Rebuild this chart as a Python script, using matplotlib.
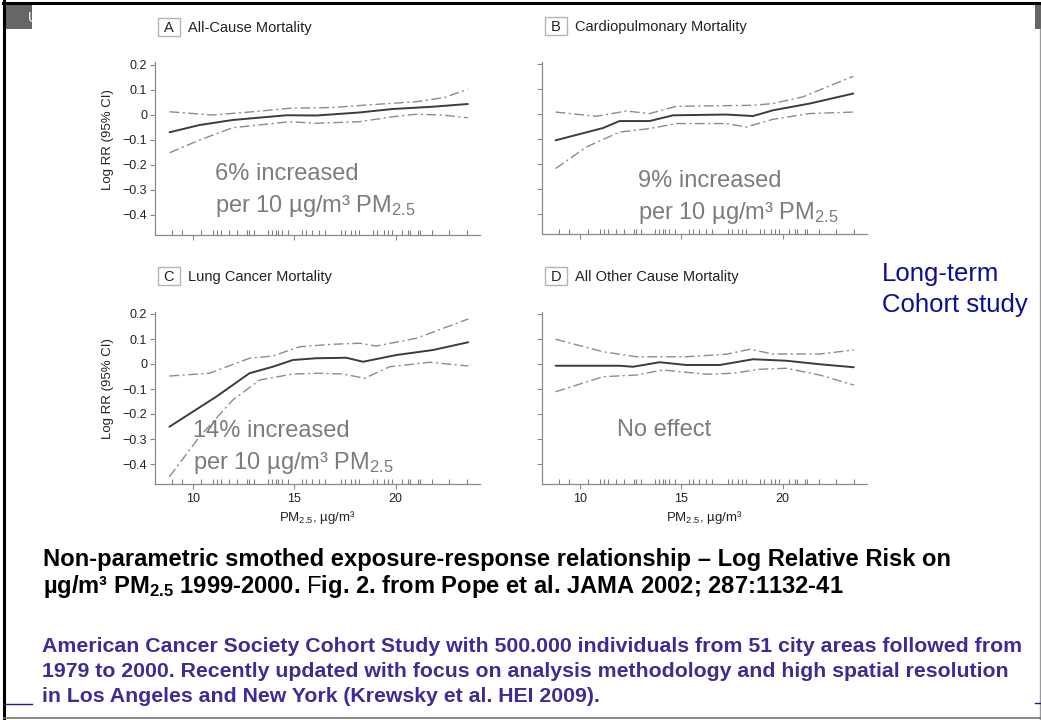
import matplotlib
matplotlib.use("Agg")
import matplotlib.pyplot as plt
from matplotlib.patches import Rectangle
from matplotlib.lines import Line2D

plt.rcParams['font.family'] = ['Liberation Sans', 'DejaVu Sans']
plt.rcParams['mathtext.fontset'] = 'custom'
plt.rcParams['mathtext.rm'] = 'Liberation Sans'
plt.rcParams['mathtext.it'] = 'Liberation Sans:italic'
plt.rcParams['mathtext.bf'] = 'Liberation Sans:bold'

W, H = 1041, 720

# city mean PM2.5 values (rug along the x axis)
rug_pm = [9.0, 9.5, 10.4, 11.0, 11.2, 11.4, 11.8, 12.2, 12.7, 12.8, 13.0,
          13.7, 13.9, 14.1, 14.2, 14.4, 14.7, 15.4, 15.6, 15.9, 16.2, 16.5,
          17.3, 17.5, 17.8, 18.0, 18.2, 18.9, 19.1, 19.4, 19.6, 19.8, 20.3,
          20.6, 20.7, 21.1, 21.2, 21.8, 22.6, 23.5]

# A  all-cause mortality
a_est_x = [8.87, 10.35, 11.97, 14.63, 16.1, 18.2, 19.85, 21.8, 23.55]
a_est_y = [-0.069, -0.04, -0.02, -0.001, -0.002, 0.01, 0.024, 0.033, 0.044]
a_hi_x = [8.87, 10.99, 12.96, 14.78, 16.9, 18.57, 21.0, 22.4, 23.55]
a_hi_y = [0.013, 0.0, 0.013, 0.027, 0.03, 0.04, 0.053, 0.07, 0.103]
a_lo_x = [8.87, 10.35, 11.97, 14.78, 16.1, 18.2, 19.85, 21.0, 22.3, 23.55]
a_lo_y = [-0.151, -0.1, -0.051, -0.027, -0.033, -0.027, -0.007, 0.003, 0.0, -0.011]

# B  cardiopulmonary mortality
b_est_x = [8.82, 11.15, 11.97, 13.45, 14.6, 17.23, 18.54, 19.52, 21.33, 23.47]
b_est_y = [-0.104, -0.055, -0.027, -0.027, -0.004, -0.001, -0.007, 0.016, 0.043, 0.083]
b_hi_x = [8.82, 10.82, 12.3, 13.45, 14.77, 18.54, 19.52, 21.0, 23.47]
b_hi_y = [0.009, -0.008, 0.013, 0.003, 0.032, 0.036, 0.043, 0.07, 0.152]
b_lo_x = [8.82, 10.33, 11.97, 13.45, 14.77, 17.23, 18.2, 19.52, 21.33, 23.47]
b_lo_y = [-0.217, -0.131, -0.071, -0.057, -0.037, -0.037, -0.051, -0.02, 0.003, 0.009]

# C  lung cancer mortality
c_est_x = [8.86, 11.16, 12.8, 13.95, 14.94, 16.09, 17.57, 18.39, 20.04, 21.84, 23.57]
c_est_y = [-0.251, -0.131, -0.037, -0.011, 0.016, 0.023, 0.025, 0.009, 0.036, 0.056, 0.087]
c_hi_x = [8.86, 10.83, 12.8, 13.95, 15.27, 16.91, 18.23, 19.05, 21.02, 23.57]
c_hi_y = [-0.048, -0.037, 0.023, 0.032, 0.069, 0.079, 0.083, 0.072, 0.103, 0.18]
c_lo_x = [8.86, 10.34, 11.98, 13.3, 14.94, 16.25, 17.4, 18.47, 19.7, 21.67, 23.57]
c_lo_y = [-0.451, -0.291, -0.144, -0.064, -0.04, -0.037, -0.04, -0.057, -0.011, 0.007, -0.008]

# D  all other cause mortality
d_est_x = [8.82, 11.97, 12.63, 13.94, 15.26, 16.9, 18.54, 20.18, 21.82, 23.5]
d_est_y = [-0.007, -0.007, -0.011, 0.007, -0.004, -0.004, 0.019, 0.013, -0.001, -0.013]
d_hi_x = [8.82, 11.15, 12.8, 15.26, 17.23, 18.38, 19.52, 21.82, 23.5]
d_hi_y = [0.099, 0.049, 0.029, 0.029, 0.039, 0.059, 0.04, 0.04, 0.056]
d_lo_x = [8.82, 11.15, 12.8, 14.1, 16.24, 17.56, 18.87, 20.18, 21.82, 23.5]
d_lo_y = [-0.111, -0.051, -0.044, -0.024, -0.041, -0.037, -0.021, -0.017, -0.044, -0.084]

x_ticks = [10, 15, 20]
y_ticks = [0.2, 0.1, 0, -0.1, -0.2, -0.3, -0.4]
y_tick_labels = ['0.2', '0.1', '0', '\u22120.1', '\u22120.2', '\u22120.3', '\u22120.4']

letters = ['A', 'B', 'C', 'D']
titles = ['All-Cause Mortality', 'Cardiopulmonary Mortality',
          'Lung Cancer Mortality', 'All Other Cause Mortality']
notes = ['6% increased\nper 10 \u00b5g/m\u00b3 PM$_\\mathregular{2.5}$',
         '9% increased\nper 10 \u00b5g/m\u00b3 PM$_\\mathregular{2.5}$',
         '14% increased\nper 10 \u00b5g/m\u00b3 PM$_\\mathregular{2.5}$',
         'No effect']

XMIN, XMAX = 8.15, 24.15
YMIN, YMAX = -0.48, 0.21
PX_UNIT = 250.0
AX_W = 325
AX_H = (YMAX - YMIN) * PX_UNIT

# left edge and pixel row of y=0 for each panel
panel_left = [155, 542, 155, 542]
panel_zero = [115, 114.3, 364, 364]
note_xy = [(215, 180), (638, 187), (193, 437), (617, 436)]

curves = [
    (a_est_x, a_est_y, a_hi_x, a_hi_y, a_lo_x, a_lo_y),
    (b_est_x, b_est_y, b_hi_x, b_hi_y, b_lo_x, b_lo_y),
    (c_est_x, c_est_y, c_hi_x, c_hi_y, c_lo_x, c_lo_y),
    (d_est_x, d_est_y, d_hi_x, d_hi_y, d_lo_x, d_lo_y),
]

fig = plt.figure(figsize=(W / 100, H / 100), dpi=100)
fig.patch.set_facecolor('white')


def fx(x):
    return x / W


def fy(y):
    return 1 - y / H


for i in range(4):
    left = panel_left[i]
    top = panel_zero[i] - YMAX * PX_UNIT
    ax = fig.add_axes([fx(left), fy(top + AX_H), AX_W / W, AX_H / H])
    ex, ey, hx, hy, lx, ly = curves[i]
    ax.plot(ex, ey, color='#3c3c3c', lw=1.4, solid_capstyle='round')
    ax.plot(hx, hy, color='#8c8c8c', lw=1.0, linestyle=(0, (7, 2.5, 1.5, 2.5)))
    ax.plot(lx, ly, color='#8c8c8c', lw=1.0, linestyle=(0, (7, 2.5, 1.5, 2.5)))
    ax.vlines(rug_pm, 0, 0.028, transform=ax.get_xaxis_transform(),
              colors='#808080', lw=0.8)

    ax.set_xlim(XMIN, XMAX)
    ax.set_ylim(YMIN, YMAX)
    ax.set_xticks(x_ticks)
    ax.set_yticks(y_ticks)
    ax.set_yticklabels(y_tick_labels)
    for s in ['top', 'right']:
        ax.spines[s].set_visible(False)
    for s in ['left', 'bottom']:
        ax.spines[s].set_color('#8a8a8a')
        ax.spines[s].set_linewidth(0.9)
    ax.tick_params(direction='out', length=3.5, width=0.8, color='#8a8a8a',
                   labelsize=9, labelcolor='#222222', pad=2)
    ax.tick_params(axis='x', pad=3)
    if i < 2:
        ax.tick_params(labelbottom=False)
    else:
        ax.set_xlabel('PM$_\\mathregular{2.5}$, \u00b5g/m\u00b3', fontsize=9.5,
                      color='#222222', labelpad=3)
    if i % 2 == 1:
        ax.tick_params(labelleft=False)
    else:
        ax.text(-0.145, 0.555, 'Log RR (95% CI)', transform=ax.transAxes,
                rotation=90, ha='center', va='center', fontsize=9.5,
                color='#222222')

    # panel heading: boxed letter + title
    base = panel_zero[i] - 83
    fig.add_artist(Rectangle((fx(left + 3), fy(base + 4)), 22 / W, 18 / H,
                             transform=fig.transFigure, fill=False,
                             edgecolor='#b4b4b4', lw=1.0))
    fig.text(fx(left + 14), fy(base), letters[i], ha='center', va='baseline',
             fontsize=10.5, color='#222222')
    fig.text(fx(left + 33), fy(base), titles[i], ha='left', va='baseline',
             fontsize=10.5, color='#222222')

    nx, ny = note_xy[i]
    lines = notes[i].split('\n')
    for k, line in enumerate(lines):
        fig.text(fx(nx), fy(ny + 32 * k), line, ha='left', va='baseline',
                 fontsize=17, color='#7c7c7c')

fig.text(fx(882), fy(281), 'Long-term', fontsize=18.5, color='#0c0c98',
         ha='left', va='baseline')
fig.text(fx(882), fy(312), 'Cohort study', fontsize=18.5, color='#0c0c98',
         ha='left', va='baseline')

fig.text(fx(43), fy(566),
         'Non-parametric smothed exposure-response relationship \u2013 Log Relative Risk on',
         fontsize=17.1, fontweight='bold', color='black', ha='left', va='baseline')
fig.text(fx(43), fy(593),
         '\u00b5g/m\u00b3 PM$_\\mathregular{2.5}$ 1999-2000. $\\mathrm{F}$ig. 2. from Pope et al. JAMA 2002; 287:1132-41',
         fontsize=17.1, fontweight='bold', color='black', ha='left', va='baseline')

blue_lines = [
    'American Cancer Society Cohort Study with 500.000 individuals from 51 city areas followed from',
    '1979 to 2000. Recently updated with focus on analysis methodology and high spatial resolution',
    'in Los Angeles and New York (Krewsky et al. HEI 2009).',
]
for k, line in enumerate(blue_lines):
    fig.text(fx(42), fy(652 + 25 * k), line, fontsize=15.3, fontweight='bold',
             color='#3a2e96', ha='left', va='baseline')

# slide frame
fig.add_artist(Rectangle((fx(5), fy(29)), 27 / W, 25 / H, transform=fig.transFigure,
                         facecolor='#666666', edgecolor='none'))
fig.add_artist(Rectangle((fx(1035), fy(29)), 6 / W, 25 / H, transform=fig.transFigure,
                         facecolor='#666666', edgecolor='none'))
fig.text(fx(28), fy(22), 'U', fontsize=10, color='white', ha='left', va='baseline')
fig.add_artist(Line2D([fx(3), fx(1041)], [fy(3), fy(3)], transform=fig.transFigure,
                      color='black', lw=2.2))
fig.add_artist(Line2D([fx(4), fx(4)], [fy(0), fy(720)], transform=fig.transFigure,
                      color='black', lw=2.2))
fig.add_artist(Line2D([fx(1040), fx(1040)], [fy(29), fy(720)], transform=fig.transFigure,
                      color='#9a9a9a', lw=1.0))
fig.add_artist(Line2D([fx(4), fx(1041)], [fy(718), fy(718)], transform=fig.transFigure,
                      color='#777777', lw=1.2))
fig.add_artist(Line2D([fx(4), fx(32)], [fy(704), fy(704)], transform=fig.transFigure,
                      color='#1c1c80', lw=1.0))
fig.add_artist(Line2D([fx(1035), fx(1041)], [fy(703), fy(703)], transform=fig.transFigure,
                      color='#1c1c80', lw=1.0))

fig.savefig('out.png', dpi=100)
